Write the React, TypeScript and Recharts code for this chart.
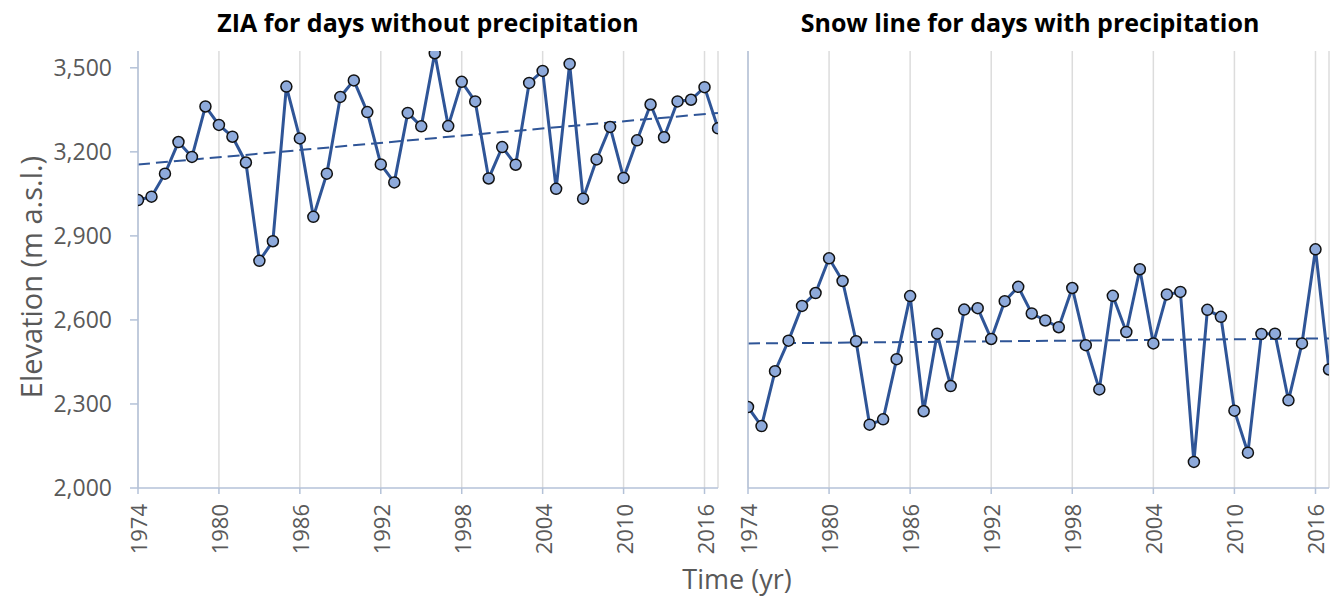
import { LineChart, Line, XAxis, YAxis, CartesianGrid } from "recharts";

const years = [
  1974, 1975, 1976, 1977, 1978, 1979, 1980, 1981, 1982, 1983, 1984, 1985, 1986,
  1987, 1988, 1989, 1990, 1991, 1992, 1993, 1994, 1995, 1996, 1997, 1998, 1999,
  2000, 2001, 2002, 2003, 2004, 2005, 2006, 2007, 2008, 2009, 2010, 2011, 2012,
  2013, 2014, 2015, 2016, 2017,
];

// ZIA for days without precipitation
const ziaDry = [
  3028, 3040, 3122, 3235, 3182, 3362, 3296, 3254, 3162, 2811, 2881, 3433, 3248,
  2968, 3122, 3396, 3455, 3342, 3155, 3091, 3339, 3291, 3552, 3292, 3450, 3380,
  3105, 3217, 3154, 3446, 3489, 3068, 3514, 3033, 3173, 3289, 3107, 3241, 3369,
  3252, 3380, 3386, 3431, 3284,
];

// snow line for days with precipitation
const snowWet = [
  2289, 2221, 2417, 2526, 2650, 2696, 2820, 2739, 2524, 2226, 2245, 2460, 2685,
  2274, 2551, 2364, 2637, 2642, 2532, 2667, 2718, 2623, 2598, 2574, 2714, 2510,
  2352, 2686, 2557, 2781, 2516, 2691, 2700, 2093, 2636, 2611, 2276, 2126, 2550,
  2551, 2313, 2516, 2852, 2423,
];

// trend lines (start / end)
const trendYears = [1974, 2017];
const ziaTrend = [3155, 3339];
const snowTrend = [2516, 2534];

const xTicks = [1974, 1980, 1986, 1992, 1998, 2004, 2010, 2016];
const yTicks = [2000, 2300, 2600, 2900, 3200, 3500];

const FONT = "'Open Sans', 'Noto Sans', sans-serif";
const TEXT = "#595959";
const AXIS = "#b4c2d8";
const GRID = "#dcdcdc";
const LINE = "#2f5597";
const DOT = "#8eaadb";

const ziaData = years.map((year, i) => ({ year, value: ziaDry[i] }));
const snowData = years.map((year, i) => ({ year, value: snowWet[i] }));
const ziaTrendData = trendYears.map((year, i) => ({ year, value: ziaTrend[i] }));
const snowTrendData = trendYears.map((year, i) => ({ year, value: snowTrend[i] }));

const YearTick = (props: any) => {
  const { x, y, payload } = props;
  return (
    <text
      x={x}
      y={y + 8}
      transform={`rotate(-90, ${x}, ${y + 8})`}
      textAnchor="end"
      dominantBaseline="central"
      fill={TEXT}
      fontSize={22}
      fontFamily={FONT}
    >
      {payload.value}
    </text>
  );
};

const formatY = (v: number) => v.toLocaleString("en-US");

function Panel({
  data,
  trend,
  width,
  left,
  showYLabels,
}: {
  data: { year: number; value: number }[];
  trend: { year: number; value: number }[];
  width: number;
  left: number;
  showYLabels: boolean;
}) {
  return (
    <div style={{ position: "absolute", left, top: 0 }}>
      <LineChart
        width={width}
        height={600}
        data={data}
        margin={{ top: 51, right: 12, bottom: 0, left: 0 }}
      >
        <CartesianGrid horizontal={false} stroke={GRID} strokeWidth={1.5} />
        <XAxis
          dataKey="year"
          type="number"
          domain={[1974, 2017]}
          ticks={xTicks}
          interval={0}
          allowDataOverflow
          height={112}
          stroke={AXIS}
          strokeWidth={1.5}
          tickSize={6}
          tick={<YearTick />}
        />
        <YAxis
          type="number"
          domain={[2000, 3560]}
          ticks={yTicks}
          interval={0}
          allowDataOverflow
          width={showYLabels ? 138 : 18}
          stroke={AXIS}
          strokeWidth={1.5}
          tickSize={showYLabels ? 8 : 0}
          tickLine={showYLabels}
          tick={
            showYLabels
              ? { fill: TEXT, fontSize: 23, fontFamily: FONT, dx: -16 }
              : false
          }
          tickFormatter={formatY}
        />
        <Line
          data={trend}
          dataKey="value"
          stroke={LINE}
          strokeWidth={2}
          strokeDasharray="12 6"
          dot={false}
          activeDot={false}
          isAnimationActive={false}
        />
        <Line
          dataKey="value"
          stroke={LINE}
          strokeWidth={3}
          dot={{ r: 5.5, fill: DOT, stroke: "#111", strokeWidth: 1.5 }}
          activeDot={false}
          isAnimationActive={false}
        />
      </LineChart>
    </div>
  );
}

export default function App() {
  return (
    <div
      style={{
        position: "absolute",
        left: 0,
        top: 0,
        width: 1341,
        height: 600,
        background: "#fff",
        fontFamily: FONT,
      }}
    >
      <Panel data={ziaData} trend={ziaTrendData} width={730} left={0} showYLabels />
      <Panel data={snowData} trend={snowTrendData} width={611} left={730} showYLabels={false} />
      <div
        style={{
          position: "absolute",
          left: 428,
          top: 22,
          transform: "translate(-50%, -50%)",
          whiteSpace: "nowrap",
          fontWeight: 700,
          fontSize: 25,
          color: "#000",
        }}
      >
        ZIA for days without precipitation
      </div>
      <div
        style={{
          position: "absolute",
          left: 1030,
          top: 22,
          transform: "translate(-50%, -50%)",
          whiteSpace: "nowrap",
          fontWeight: 700,
          fontSize: 25,
          color: "#000",
        }}
      >
        Snow line for days with precipitation
      </div>
      <div
        style={{
          position: "absolute",
          left: 30,
          top: 277,
          transform: "translate(-50%, -50%) rotate(-90deg)",
          whiteSpace: "nowrap",
          fontSize: 29,
          color: TEXT,
        }}
      >
        Elevation (m a.s.l.)
      </div>
      <div
        style={{
          position: "absolute",
          left: 737,
          top: 578,
          transform: "translate(-50%, -50%)",
          whiteSpace: "nowrap",
          fontSize: 27,
          color: TEXT,
        }}
      >
        Time (yr)
      </div>
    </div>
  );
}
